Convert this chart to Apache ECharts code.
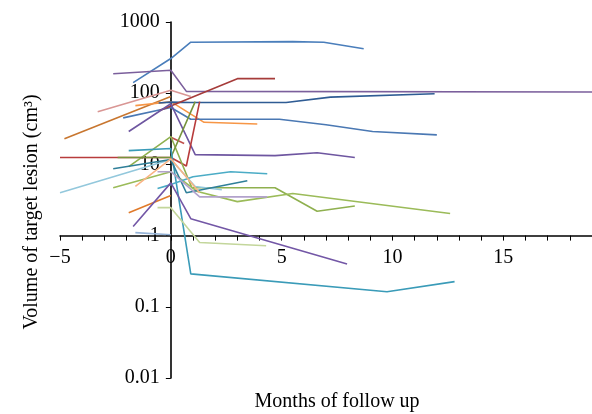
<!DOCTYPE html>
<html><head><meta charset="utf-8">
<script src="https://cdn.jsdelivr.net/npm/echarts@6/dist/echarts.min.js"></script>
<style>html,body{margin:0;padding:0;background:#fff}#c{width:592px;height:414px}</style>
</head><body><div id="c"></div>
<script>
// tick labels
const yTickLabels = ['0.01', '0.1', '1', '10', '100', '1000'];
const xAxisTitle = 'Months of follow up';
const yAxisTitle = 'Volume of target lesion (cm\u00B3)';

// each patient: [month, volume cm3]
const patA = [[-1.7,141],[0,307],[0.9,520],[5.5,530],[6.9,520],[8.7,420]];
const patB = [[-2.6,188],[0,210],[0.7,106],[19,104]];
const patC = [[-3.3,55],[0,110],[0.9,90]];
const patD = [[-4.8,23],[0,90]];
const patE = [[-1.6,67],[0,76],[1.5,39],[3.9,37]];
const patF = [[-0.55,73],[0,75],[0.9,74],[5.2,74],[7.2,88],[11.9,98]];
const patG = [[-2.15,45],[0,63],[0.9,43],[4.9,43],[7.0,36],[9.1,29],[12.0,26]];
const patH = [[-0.5,57],[3.0,160],[4.7,160]];
const patI = [[-1.9,29],[0,71],[1.1,13.7],[4.7,13.3],[6.6,14.6],[8.3,12.5]];
const patJ = [[-5,12.5],[0,12.5],[0.7,9.5],[1.3,76]];
const patK = [[0,24],[0.6,19.6]];
const patL = [[-1.9,9.3],[0,24.6],[0.95,4.7],[4.7,4.7],[6.6,2.2],[8.3,2.6]];
const patM = [[-2.6,4.7],[0,7.9],[1.2,4.15],[3.0,3.0],[5.5,3.9],[12.6,2.04]];
const patN = [[-2.4,12.5],[0,12.5],[1.1,76]];
const patO = [[-1.9,15.6],[0,16.7],[0.9,0.29],[9.75,0.163],[12.8,0.226]];
const patP = [[-5,4.0],[0,11.7],[1.1,4.9],[2.3,4.4]];
const patQ = [[-2.6,8.7],[0,11.7],[0.7,4.0],[3.45,5.9]];
const patR = [[-0.6,4.6],[0,5.2],[1.0,6.7],[2.7,7.9],[4.35,7.4]];
const patS = [[-1.6,4.9],[0,12],[1.3,4.0]];
const patT = [[-0.6,7.9],[0,7.9],[1.3,3.5],[4.35,3.5]];
const patU = [[-1.9,2.1],[0,3.65]];
const patV = [[-1.7,1.34],[0,5.5],[0.9,1.73],[7.95,0.40]];
const patW = [[-0.6,2.47],[0,2.47],[1.3,0.80],[4.3,0.72]];
const patX = [[-1.6,1.1],[0,1.03]];

const patients = [patA,patB,patC,patD,patE,patF,patG,patH,patI,patJ,patK,patL,patM,patN,patO,patP,patQ,patR,patS,patT,patU,patV,patW,patX];
const palette = ['#4a7ebb','#7b5f9c','#d99694','#c8762f','#f79646','#2f5c94','#4a78b3','#a63c3a','#6e56a0','#b83c3c','#c0504d','#8fb04f','#9bbb59','#77933c','#3a9bb8','#93c8dc','#2f7f99','#4bacc6','#f9b485','#b2a2cc','#e07a2a','#7357a6','#c3d69b','#95b3d7'];

const FONT = 'Liberation Serif';
const FS = 20;
const chart = echarts.init(document.getElementById('c'), null, {renderer: 'canvas'});
const gridLeft = 60, gridTop = 22, gridHeight = 356, unitPx = 22.17;
chart.setOption({
  animation: false,
  backgroundColor: '#fff',
  grid: {left: gridLeft, right: -unitPx, top: gridTop, height: gridHeight, containLabel: false, outerBoundsMode: 'none'},
  xAxis: {
    type: 'value', min: -5, max: 20, interval: 5,
    offset: -gridHeight * 2 / 5,
    axisLine: {onZero: false, lineStyle: {color: '#000', width: 1.5}},
    axisTick: {length: 5, lineStyle: {color: '#000', width: 1}},
    minorTick: {show: true, splitNumber: 5, length: 5, lineStyle: {color: '#000', width: 1}},
    splitLine: {show: false}, minorSplitLine: {show: false},
    axisLabel: {
      margin: 12, color: '#000', fontFamily: FONT, fontSize: FS, showMaxLabel: false,
      formatter: v => v < 0 ? '\u2212' + Math.abs(v) : String(v)
    },
    name: xAxisTitle, nameLocation: 'middle', nameGap: 156,
    nameTextStyle: {color: '#000', fontFamily: FONT, fontSize: FS}
  },
  yAxis: {
    type: 'log', logBase: 10, min: 0.01, max: 1000,
    offset: -5 * unitPx,
    axisLine: {onZero: false, lineStyle: {color: '#000', width: 1.6}},
    axisTick: {length: 5, lineStyle: {color: '#000', width: 1}},
    splitLine: {show: false},
    axisLabel: {
      margin: 11, color: '#000', fontFamily: FONT, fontSize: FS,
      formatter: v => yTickLabels[Math.round(Math.log10(v)) + 2]
    },
    name: yAxisTitle, nameLocation: 'middle', nameGap: 129,
    nameTextStyle: {color: '#000', fontFamily: FONT, fontSize: FS, padding: [0, 24, 0, 0]}
  },
  series: patients.map((p, i) => ({
    type: 'line', data: p, symbol: 'none', silent: true,
    lineStyle: {color: palette[i], width: 1.6}
  }))
});
</script></body></html>
